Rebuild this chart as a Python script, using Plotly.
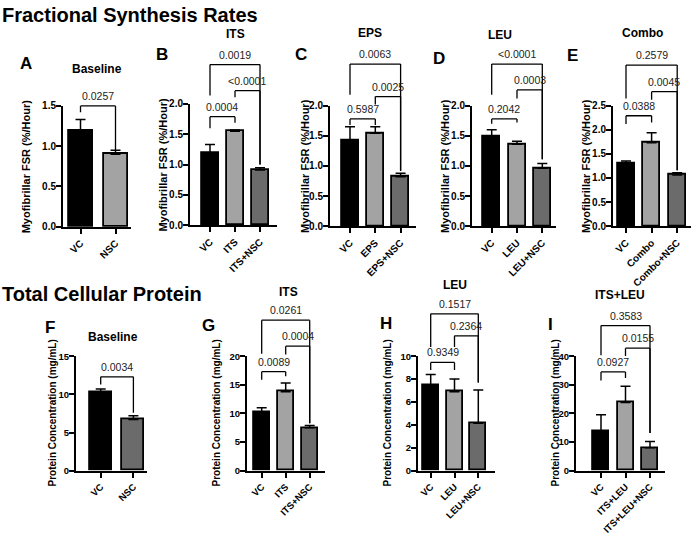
import plotly.graph_objects as go

W, H = 694, 535
FONT = "Liberation Sans, Arial, sans-serif"
BLACK, LIGHT, DARK = "#000000", "#a3a3a3", "#6b6b6b"

# ---------------- data ----------------
A_cats = ["VC", "NSC"]
A_mean = [1.19, 0.90]
A_sd = [0.14, 0.05]
A_pairs = [(0, 1, "0.0257")]
A_levels = [1.50]
A_legs = [(1.42, 0.94)]

B_cats = ["VC", "ITS", "ITS+NSC"]
B_mean = [1.19, 1.55, 0.91]
B_sd = [0.14, 0.02, 0.04]
B_pairs = [(0, 1, "0.0004"), (1, 2, "<0.0001"), (0, 2, "0.0019")]
B_levels = [1.79, 2.22, 2.65]
B_legs = [(1.60, 1.69), (2.11, 1.00), (2.14, 1.00)]

C_cats = ["VC", "EPS", "EPS+NSC"]
C_mean = [1.42, 1.54, 0.82]
C_sd = [0.23, 0.11, 0.06]
C_pairs = [(0, 1, "0.5987"), (1, 2, "0.0025"), (0, 2, "0.0063")]
C_levels = [1.78, 2.15, 2.69]
C_legs = [(1.68, 1.68), (2.02, 0.92), (2.18, 0.92)]

D_cats = ["VC", "LEU", "LEU+NSC"]
D_mean = [1.48, 1.36, 0.96]
D_sd = [0.12, 0.05, 0.08]
D_pairs = [(0, 1, "0.2042"), (1, 2, "0.0003"), (0, 2, "<0.0001")]
D_levels = [1.78, 2.26, 2.69]
D_legs = [(1.70, 1.72), (2.12, 1.11), (2.18, 1.11)]

E_cats = ["VC", "Combo", "Combo+NSC"]
E_mean = [1.29, 1.73, 1.06]
E_sd = [0.06, 0.21, 0.05]
E_pairs = [(0, 1, "0.0388"), (1, 2, "0.0045"), (0, 2, "0.2579")]
E_levels = [2.29, 2.79, 3.34]
E_legs = [(2.12, 2.15), (2.62, 1.16), (2.65, 1.16)]

F_cats = ["VC", "NSC"]
F_mean = [10.3, 6.7]
F_sd = [0.4, 0.5]
F_pairs = [(0, 1, "0.0034")]
F_levels = [12.3]
F_legs = [(11.3, 7.6)]

G_cats = ["VC", "ITS", "ITS+NSC"]
G_mean = [10.3, 13.8, 7.5]
G_sd = [0.7, 1.5, 0.4]
G_pairs = [(0, 1, "0.0089"), (1, 2, "0.0004"), (0, 2, "0.0261")]
G_levels = [17.3, 21.75, 26.3]
G_legs = [(15.9, 16.5), (20.3, 8.3), (20.45, 8.3)]

H_cats = ["VC", "LEU", "LEU+NSC"]
H_mean = [7.45, 6.9, 4.15]
H_sd = [0.95, 1.1, 2.9]
H_pairs = [(0, 1, "0.9349"), (1, 2, "0.2364"), (0, 2, "0.1517")]
H_levels = [9.46, 11.78, 13.7]
H_legs = [(8.8, 8.8), (10.8, 7.7), (10.8, 7.7)]

I_cats = ["VC", "ITS+LEU", "ITS+LEU+NSC"]
I_mean = [13.8, 23.8, 8.0]
I_sd = [5.7, 5.7, 2.2]
I_pairs = [(0, 1, "0.0927"), (1, 2, "0.0155"), (0, 2, "0.3583")]
I_levels = [34.5, 42.8, 50.7]
I_legs = [(31.5, 32.4), (40.1, 13.2), (40.3, 13.2)]

FSR_TICKS_15 = [0.0, 0.5, 1.0, 1.5]
FSR_TICKS_20 = [0.0, 0.5, 1.0, 1.5, 2.0]
FSR_TICKS_25 = [0.0, 0.5, 1.0, 1.5, 2.0, 2.5]
F_TICKS = [0, 5, 10, 15]
G_TICKS = [0, 5, 10, 15, 20]
H_TICKS = [0, 2, 4, 6, 8, 10]
I_TICKS = [0, 10, 20, 30, 40]

FSR_TITLE = "Myofibrillar FSR (%/Hour)"
PROT_TITLE = "Protein Concentration (mg/mL)"

# ---------------- layout of panels (pixel geometry) ----------------
panels = [
    dict(letter="A", title="Baseline", cats=A_cats, mean=A_mean, sd=A_sd, pairs=A_pairs, levels=A_levels, legs=A_legs,
         colors=[BLACK, LIGHT], ticks=FSR_TICKS_15, fmt=".1f", ytitle=FSR_TITLE,
         xa=63, c0=80.5, s=35, xb=131, barpx=24, y0=227.5, ym=103, rtop=1.62,
         lpos=(26, 59), tpos=(97, 65), ytx=26, fs=10, fsy=11),
    dict(letter="B", title="ITS", cats=B_cats, mean=B_mean, sd=B_sd, pairs=B_pairs, levels=B_levels, legs=B_legs,
         colors=[BLACK, LIGHT, DARK], ticks=FSR_TICKS_20, fmt=".1f", ytitle=FSR_TITLE,
         xa=190, c0=210, s=25, xb=277, barpx=17, y0=226, ym=101, rtop=2.8,
         lpos=(161.5, 50.5), tpos=(235, 29), ytx=163, fs=10, fsy=11),
    dict(letter="C", title="EPS", cats=C_cats, mean=C_mean, sd=C_sd, pairs=C_pairs, levels=C_levels, legs=C_legs,
         colors=[BLACK, LIGHT, DARK], ticks=FSR_TICKS_20, fmt=".1f", ytitle=FSR_TITLE,
         xa=330, c0=350, s=25.3, xb=416, barpx=17, y0=227, ym=102.7, rtop=2.8,
         lpos=(301, 50.5), tpos=(370, 28), ytx=305, fs=10, fsy=11),
    dict(letter="D", title="LEU", cats=D_cats, mean=D_mean, sd=D_sd, pairs=D_pairs, levels=D_levels, legs=D_legs,
         colors=[BLACK, LIGHT, DARK], ticks=FSR_TICKS_20, fmt=".1f", ytitle=FSR_TITLE,
         xa=472, c0=491.7, s=25.3, xb=556, barpx=17, y0=227, ym=102.7, rtop=2.8,
         lpos=(439, 54), tpos=(500, 30), ytx=445, fs=10, fsy=11),
    dict(letter="E", title="Combo", cats=E_cats, mean=E_mean, sd=E_sd, pairs=E_pairs, levels=E_levels, legs=E_legs,
         colors=[BLACK, LIGHT, DARK], ticks=FSR_TICKS_25, fmt=".1f", ytitle=FSR_TITLE,
         xa=613, c0=626, s=25.6, xb=691, barpx=17, y0=227, ym=102.7, rtop=3.45,
         lpos=(572.5, 51.5), tpos=(642, 28), ytx=586, fs=10, fsy=11),
    dict(letter="F", title="Baseline", cats=F_cats, mean=F_mean, sd=F_sd, pairs=F_pairs, levels=F_levels, legs=F_legs,
         colors=[BLACK, DARK], ticks=F_TICKS, fmt="d", ytitle=PROT_TITLE,
         xa=76, c0=100.7, s=32.7, xb=147, barpx=22, y0=479, ym=361, rtop=13.2,
         lpos=(50, 331), tpos=(113, 341), ytx=52, fs=9.5, fsy=10),
    dict(letter="G", title="ITS", cats=G_cats, mean=G_mean, sd=G_sd, pairs=G_pairs, levels=G_levels, legs=G_legs,
         colors=[BLACK, LIGHT, DARK], ticks=G_TICKS, fmt="d", ytitle=PROT_TITLE,
         xa=247, c0=261.7, s=24, xb=325, barpx=16, y0=479, ym=361, rtop=27.5,
         lpos=(208.5, 329), tpos=(288, 295), ytx=216, fs=9.5, fsy=10),
    dict(letter="H", title="LEU", cats=H_cats, mean=H_mean, sd=H_sd, pairs=H_pairs, levels=H_levels, legs=H_legs,
         colors=[BLACK, LIGHT, DARK], ticks=H_TICKS, fmt="d", ytitle=PROT_TITLE,
         xa=418, c0=430.7, s=23.8, xb=495, barpx=16, y0=479, ym=361, rtop=14.3,
         lpos=(386, 327), tpos=(455, 288), ytx=387, fs=9.5, fsy=10),
    dict(letter="I", title="ITS+LEU", cats=I_cats, mean=I_mean, sd=I_sd, pairs=I_pairs, levels=I_levels, legs=I_legs,
         colors=[BLACK, LIGHT, DARK], ticks=I_TICKS, fmt="d", ytitle=PROT_TITLE,
         xa=576, c0=601, s=24.5, xb=665, barpx=16, y0=479, ym=361, rtop=53,
         lpos=(550.5, 328), tpos=(620, 298), ytx=555, fs=9.5, fsy=10),
]

fig = go.Figure()
shapes, annotations = [], []
LW = 2
NP = len(panels)


def px2x(p):
    return p / W


def px2y(p):
    return 1 - p / H


for k, p in enumerate(panels, start=1):
    xs = "" if k == 1 else str(k)
    bs = str(k + NP)                      # companion axis used for the brackets
    xref, yref, bref = "x" + xs, "y" + xs, "y" + bs
    ymax = p["ticks"][-1]
    xl = (p["xa"] - p["c0"]) / p["s"]
    xr = (p["xb"] - p["c0"]) / p["s"]
    ytop_px = p["y0"] - (p["y0"] - p["ym"]) * p["rtop"] / ymax

    fig.add_trace(go.Bar(
        x=p["cats"], y=p["mean"], xaxis=xref, yaxis=yref,
        width=p["barpx"] / p["s"],
        marker=dict(color=p["colors"], line=dict(color=BLACK, width=1.8)),
        error_y=dict(type="data", array=p["sd"], arrayminus=[0] * len(p["sd"]), symmetric=False,
                     color=BLACK, thickness=1.5, width=5),
        cliponaxis=False, showlegend=False, hoverinfo="skip",
    ))

    fig.update_layout(**{
        "xaxis" + xs: dict(domain=[px2x(p["xa"]), px2x(p["xb"])], anchor=yref, type="category",
                           range=[xl, xr], showline=True, linewidth=LW, linecolor=BLACK,
                           ticks="outside", ticklen=5, tickwidth=LW, tickcolor=BLACK,
                           tickangle=-45, showgrid=False, zeroline=False,
                           tickfont=dict(family=FONT, size=p["fs"], color=BLACK, weight="bold")),
        "yaxis" + xs: dict(domain=[px2y(p["y0"]), px2y(p["ym"])], anchor=xref,
                           range=[0, ymax], tickmode="array", tickvals=p["ticks"],
                           tickformat=p["fmt"], showline=True, linewidth=LW, linecolor=BLACK,
                           showgrid=False, zeroline=False, ticklabelstandoff=-2,
                           ticks="outside", ticklen=5, tickwidth=LW, tickcolor=BLACK,
                           tickfont=dict(family=FONT, size=p["fs"], color=BLACK, weight="bold")),
        "yaxis" + bs: dict(domain=[px2y(p["y0"]), px2y(ytop_px)], anchor=xref,
                           range=[0, p["rtop"]], visible=False, showgrid=False, zeroline=False),
    })

    # significance brackets (same scale as the bars, extended upward)
    for (i, j, lab), lev, (li, lj) in zip(p["pairs"], p["levels"], p["legs"]):
        for (a0, b0, a1, b1) in [(i, li, i, lev), (i, lev, j, lev), (j, lev, j, lj)]:
            shapes.append(dict(type="line", xref=xref, yref=bref, x0=a0, y0=b0, x1=a1, y1=b1,
                               line=dict(color=BLACK, width=1.3)))
        annotations.append(dict(x=(i + j) / 2, y=lev, xref=xref, yref=bref, text=lab,
                                showarrow=False, yanchor="bottom", yshift=2,
                                font=dict(family=FONT, size=10.5, color="#222222")))

    # panel letter, title, y-axis title
    annotations.append(dict(x=px2x(p["lpos"][0]), y=px2y(p["lpos"][1]), xref="paper", yref="paper",
                            text=p["letter"], showarrow=False, xanchor="center", yanchor="middle",
                            font=dict(family=FONT, size=17, color=BLACK, weight="bold")))
    annotations.append(dict(x=px2x(p["tpos"][0]), y=px2y(p["tpos"][1]), xref="paper", yref="paper",
                            text=p["title"], showarrow=False, xanchor="center", yanchor="middle",
                            font=dict(family=FONT, size=12, color=BLACK, weight="bold")))
    annotations.append(dict(x=px2x(p["ytx"]), y=px2y((p["y0"] + p["ym"]) / 2), xref="paper", yref="paper",
                            text=p["ytitle"], showarrow=False, textangle=-90,
                            xanchor="center", yanchor="middle",
                            font=dict(family=FONT, size=p["fsy"], color=BLACK, weight="bold")))

# section headings
annotations.append(dict(x=0, y=px2y(9), xref="paper", yref="paper", text="Fractional Synthesis Rates",
                        showarrow=False, xanchor="left", yanchor="middle",
                        font=dict(family=FONT, size=20, color=BLACK, weight="bold")))
annotations.append(dict(x=0, y=px2y(297), xref="paper", yref="paper", text="Total Cellular Protein",
                        showarrow=False, xanchor="left", yanchor="middle",
                        font=dict(family=FONT, size=20, color=BLACK, weight="bold")))

fig.update_layout(width=W, height=H, margin=dict(l=0, r=0, t=0, b=0),
                  paper_bgcolor="white", plot_bgcolor="rgba(0,0,0,0)", showlegend=False,
                  shapes=shapes, annotations=annotations, bargap=0)

fig.write_html("out.html")
